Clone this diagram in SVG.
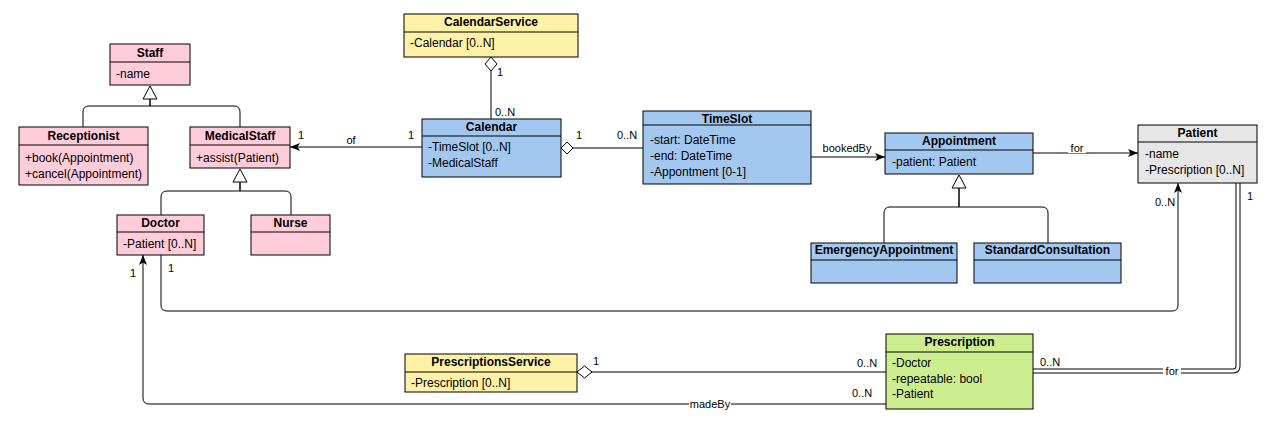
<svg xmlns="http://www.w3.org/2000/svg" width="1274" height="423" viewBox="0 0 1274 423">
<style>
text{font-family:"Liberation Sans",Arial,sans-serif;font-size:12px;fill:#000}
.t{font-weight:bold;text-anchor:middle}
.m{font-size:11px}
.lb{font-size:11px;text-anchor:middle}
.box{stroke:#000;stroke-width:1}
.pink{fill:#FFCCD9}
.yel{fill:#FFF2A6}
.blue{fill:#A3C8F0}
.green{fill:#CCEE8F}
.grey{fill:#E6E6E6}
.div{stroke:#000;stroke-width:1}
.e{fill:none;stroke:#000;stroke-width:1}
.tri{fill:#fff;stroke:#000;stroke-width:1}
.dia{fill:#fff;stroke:#000;stroke-width:1}
.bg{fill:#fff}
</style>
<defs>
<marker id="arr" viewBox="0 0 10 10" refX="10" refY="5" markerWidth="10" markerHeight="10" markerUnits="userSpaceOnUse" orient="auto">
<path d="M0,1 L10,5 L0,9 L2.5,5 Z" fill="#000"/>
</marker>
</defs>

<g id="connectors">
<!-- inheritance Staff -->
<path class="e" d="M150,99 V106 H89 Q83,106 83,112 V127"/>
<path class="e" d="M150,99 V106 H234 Q240,106 240,112 V127"/>
<path class="tri" d="M150,86 L157,99 L143,99 Z"/>
<!-- inheritance MedicalStaff -->
<path class="e" d="M240,182 V191 H167 Q161,191 161,197 V215"/>
<path class="e" d="M240,182 V191 H285 Q291,191 291,197 V215"/>
<path class="tri" d="M240,169 L247,182 L233,182 Z"/>
<!-- inheritance Appointment -->
<path class="e" d="M959,188 V207 H890 Q884,207 884,213 V243"/>
<path class="e" d="M959,188 V207 H1042 Q1048,207 1048,213 V243"/>
<path class="tri" d="M959,175 L966,188 L952,188 Z"/>
<!-- Calendar of MedicalStaff -->
<path class="e" d="M422,147 H290" marker-end="url(#arr)"/>
<rect class="bg" x="343" y="133" width="16" height="13"/>
<text class="lb" x="351" y="144">of</text>
<text class="m" x="298" y="139">1</text>
<text class="m" x="408" y="139">1</text>
<!-- CalendarService - Calendar -->
<path class="e" d="M491,71 V119"/>
<path class="dia" d="M491,57 L497,64 L491,71 L485,64 Z"/>
<text class="m" x="497" y="76">1</text>
<text class="m" x="495" y="116">0..N</text>
<!-- Calendar - TimeSlot -->
<path class="e" d="M573,148 H643"/>
<path class="dia" d="M561,148 L567,142 L573,148 L567,154 Z"/>
<text class="m" x="576" y="139">1</text>
<text class="m" x="617" y="139">0..N</text>
<!-- TimeSlot bookedBy Appointment -->
<path class="e" d="M811,157 H885" marker-end="url(#arr)"/>
<text class="lb" x="847" y="152">bookedBy</text>
<!-- Appointment for Patient -->
<path class="e" d="M1033,153 H1138" marker-end="url(#arr)"/>
<rect class="bg" x="1068" y="143" width="18" height="10"/>
<text class="lb" x="1077" y="152">for</text>
<!-- Doctor - Patient -->
<path class="e" d="M161,255 V305 Q161,311 167,311 H1172 Q1178,311 1178,305 V183" marker-end="url(#arr)"/>
<text class="m" x="168" y="272">1</text>
<text class="m" x="1155" y="206">0..N</text>
<!-- PrescriptionsService - Prescription -->
<path class="e" d="M592,372 H886"/>
<path class="dia" d="M577,372 L584.5,366 L592,372 L584.5,378 Z"/>
<text class="m" x="593" y="365">1</text>
<text class="m" x="857" y="367">0..N</text>
<!-- Prescription madeBy Doctor -->
<path class="e" d="M886,404 H149 Q143,404 143,398 V255" marker-end="url(#arr)"/>
<rect class="bg" x="689" y="398" width="42" height="12"/>
<text class="lb" x="710" y="408">madeBy</text>
<text class="m" x="130" y="277">1</text>
<text class="m" x="852" y="397">0..N</text>
<!-- Prescription for Patient (double line) -->
<path d="M1033,371 H1233 Q1238,371 1238,366 V183" fill="none" stroke="#000" stroke-width="5"/>
<path d="M1033,371 H1233 Q1238,371 1238,366 V183" fill="none" stroke="#fff" stroke-width="3"/>
<rect class="bg" x="1163" y="366" width="18" height="10"/>
<text class="lb" x="1172" y="375">for</text>
<text class="m" x="1040" y="366">0..N</text>
<text class="m" x="1247" y="200">1</text>
</g>

<g id="Staff">
<rect class="box pink" x="110" y="44" width="80" height="41"/>
<line class="div" x1="110" y1="62" x2="190" y2="62"/>
<text class="t" x="150" y="57">Staff</text>
<text x="116" y="78">-name</text>
</g>
<g id="Receptionist">
<rect class="box pink" x="19" y="127" width="129" height="58"/>
<line class="div" x1="19" y1="145" x2="148" y2="145"/>
<text class="t" x="83.5" y="140">Receptionist</text>
<text x="25" y="162">+book(Appointment)</text>
<text x="25" y="178">+cancel(Appointment)</text>
</g>
<g id="MedicalStaff">
<rect class="box pink" x="190" y="127" width="100" height="41"/>
<line class="div" x1="190" y1="145" x2="290" y2="145"/>
<text class="t" x="240" y="140">MedicalStaff</text>
<text x="196" y="162">+assist(Patient)</text>
</g>
<g id="Doctor">
<rect class="box pink" x="117" y="215" width="87" height="40"/>
<line class="div" x1="117" y1="232" x2="204" y2="232"/>
<text class="t" x="160.5" y="227">Doctor</text>
<text x="123" y="248">-Patient [0..N]</text>
</g>
<g id="Nurse">
<rect class="box pink" x="251" y="215" width="79" height="40"/>
<line class="div" x1="251" y1="232" x2="330" y2="232"/>
<text class="t" x="290.5" y="227">Nurse</text>
</g>
<g id="CalendarService">
<rect class="box yel" x="404" y="14" width="174" height="43"/>
<line class="div" x1="404" y1="32" x2="578" y2="32"/>
<text class="t" x="491" y="26">CalendarService</text>
<text x="410" y="47">-Calendar [0..N]</text>
</g>
<g id="Calendar">
<rect class="box blue" x="422" y="119" width="139" height="58"/>
<line class="div" x1="422" y1="136" x2="561" y2="136"/>
<text class="t" x="491.5" y="131">Calendar</text>
<text x="428" y="151">-TimeSlot [0..N]</text>
<text x="428" y="167">-MedicalStaff</text>
</g>
<g id="TimeSlot">
<rect class="box blue" x="643" y="111" width="168" height="73"/>
<line class="div" x1="643" y1="125" x2="811" y2="125"/>
<text class="t" x="727" y="123">TimeSlot</text>
<text x="650" y="144">-start: DateTime</text>
<text x="650" y="160">-end: DateTime</text>
<text x="650" y="176">-Appontment [0-1]</text>
</g>
<g id="Appointment">
<rect class="box blue" x="885" y="133" width="148" height="41"/>
<line class="div" x1="885" y1="150" x2="1033" y2="150"/>
<text class="t" x="959" y="145">Appointment</text>
<text x="892" y="166">-patient: Patient</text>
</g>
<g id="EmergencyAppointment">
<rect class="box blue" x="811" y="243" width="146" height="40"/>
<line class="div" x1="811" y1="260" x2="957" y2="260"/>
<text class="t" x="884" y="254">EmergencyAppointment</text>
</g>
<g id="StandardConsultation">
<rect class="box blue" x="974" y="243" width="147" height="40"/>
<line class="div" x1="974" y1="260" x2="1121" y2="260"/>
<text class="t" x="1047.5" y="254">StandardConsultation</text>
</g>
<g id="Patient">
<rect class="box grey" x="1138" y="125" width="119" height="58"/>
<line class="div" x1="1138" y1="142" x2="1257" y2="142"/>
<text class="t" x="1197.5" y="137">Patient</text>
<text x="1145" y="158">-name</text>
<text x="1145" y="174">-Prescription [0..N]</text>
</g>
<g id="PrescriptionsService">
<rect class="box yel" x="405" y="354" width="172" height="38"/>
<line class="div" x1="405" y1="372" x2="577" y2="372"/>
<text class="t" x="491" y="366">PrescriptionsService</text>
<text x="411" y="387">-Prescription [0..N]</text>
</g>
<g id="Prescription">
<rect class="box green" x="886" y="334" width="147" height="75"/>
<line class="div" x1="886" y1="352" x2="1033" y2="352"/>
<text class="t" x="959.5" y="346">Prescription</text>
<text x="892" y="367">-Doctor</text>
<text x="892" y="383">-repeatable: bool</text>
<text x="892" y="398">-Patient</text>
</g>
</svg>
